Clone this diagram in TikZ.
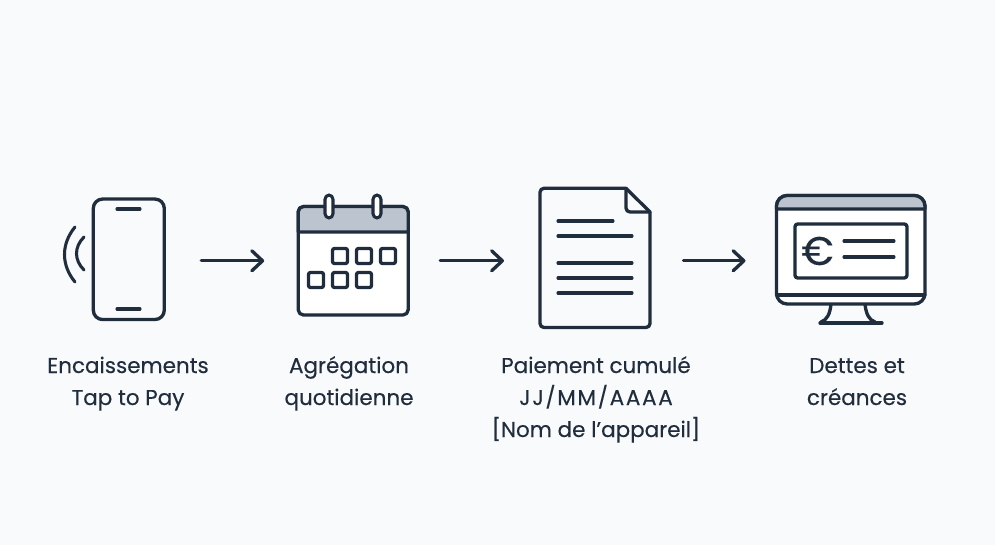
\documentclass[tikz,border=0pt]{standalone}
\usepackage{fontspec}
\setmainfont{Poppins}[FakeBold=0.3]
\usetikzlibrary{arrows.meta}
\definecolor{inkdark}{HTML}{1F2D3D}
\definecolor{paperbg}{HTML}{F9FAFC}
\definecolor{bargray}{HTML}{BCC5CF}
\def\px{0.75pt}
\tikzset{
  icon/.style={draw=inkdark, line width=2.5pt, line cap=round, line join=round},
  thinicon/.style={icon, line width=2.3pt},
  body/.style={icon, rectangle, rounded corners=7pt, inner sep=0pt, outer sep=0pt},
  slot/.style={icon, rectangle, rounded corners=1.5pt, fill=white, inner sep=0pt,
    minimum width=15*\px, minimum height=15*\px},
  flow/.style={icon, -{Straight Barb[round,length=8pt,width=15pt]}},
  caption/.style={text=inkdark, font=\fontsize{16.1pt}{24pt}\selectfont, align=center, anchor=base}
}
\begin{document}
\begin{tikzpicture}[x=0.75pt,y=-0.75pt]
  \fill[paperbg] (0,0) rectangle (995,545);
  \useasboundingbox (0,0) rectangle (995,545);

  % Phone with contactless waves
  \node[body, minimum width=71*\px, minimum height=120.5*\px] (phone) at (128.8,259.3) {};
  \draw[thinicon] (117,209) -- (140,209);
  \draw[thinicon] (117,309) -- (140,309);
  \draw[thinicon] (75,227) .. controls (61,244) and (61,265) .. (75,282);
  \draw[thinicon] (84,237) .. controls (74,247) and (74,260) .. (84,270);

  % Calendar
  \node[body, rounded corners=4pt, fill=white, minimum width=110*\px, minimum height=108.5*\px] (calendar) at (353.2,260.8) {};
  \draw[icon, fill=bargray] (298.2,232) [rounded corners=4pt] -- (298.2,206.5) -- (408.2,206.5) [sharp corners] -- (408.2,232) -- cycle;
  \foreach \x in {329,377} {
    \draw[thinicon, fill=white, rounded corners=3.2pt] (\x-4,195) rectangle (\x+4,218);
  }
  \foreach \x in {340,364,388} {
    \node[slot] (top\x) at (\x,256) {};
  }
  \foreach \x in {316,340,364} {
    \node[slot] (low\x) at (\x,280) {};
  }

  % Document with folded corner
  \node[minimum width=110*\px, minimum height=139.2*\px, inner sep=0pt, outer sep=0pt] (doc) at (595,257.9) {};
  \draw[icon, rounded corners=3pt] (626,188.3) -- (540,188.3) -- (540,327.5) -- (650,327.5) -- (650,212);
  \draw[icon] (626,188.3) -- (650,212);
  \draw[icon, rounded corners=3pt] (626,188.3) -- (626,212) -- (650,212);
  \draw[thinicon] (558,221) -- (613,221);
  \foreach \y in {236,263,278,293} {
    \draw[thinicon] (558,\y) -- (632,\y);
  }

  % Monitor
  \draw[icon] (831,304) .. controls (830,314) and (827,320) .. (821,322);
  \draw[icon] (865,304) .. controls (866,314) and (869,320) .. (875,322);
  \draw[icon] (820,323) -- (882,323);
  \node[body, rounded corners=8pt, fill=white, minimum width=148.5*\px, minimum height=108.5*\px] (screen) at (850.75,249.75) {};
  \draw[icon, fill=bargray] (776.5,209) [rounded corners=8pt] -- (776.5,195.5) -- (925,195.5) [sharp corners] -- (925,209) -- cycle;
  \draw[icon] (776.5,295) -- (925,295);
  \node[icon, rectangle, rounded corners=2pt, inner sep=0pt, minimum width=112*\px, minimum height=54*\px] (cheque) at (851,251) {};
  \node[text=inkdark, font=\fontsize{30pt}{30pt}\selectfont, inner sep=0pt] (euro) at (817.5,251) {€};
  \draw[thinicon] (844,241) -- (894,241);
  \draw[thinicon] (844,257) -- (894,257);

  % Arrows between the icons
  \draw[flow, shorten <=37*\px, shorten >=34*\px] (phone.east |- calendar.west) -- (calendar.west);
  \draw[flow, shorten <=32*\px, shorten >=36*\px] (calendar.east) -- (doc.west |- calendar.east);
  \draw[flow, shorten <=33.5*\px, shorten >=31*\px] (doc.east |- calendar.east) -- (screen.west |- calendar.east);

  % Captions
  \node[caption] (cap1) at (128,405) {Encaissements\\Tap to Pay};
  \node[caption] (cap2) at (349,405) {Agrégation\\quotidienne};
  \node[caption] (cap3) at (596,437) {Paiement cumulé\\{\addfontfeatures{LetterSpace=8}JJ/MM/AAAA}\\{[}Nom de l’appareil{]}};
  \node[caption] (cap4) at (857,405) {Dettes et\\créances};
\end{tikzpicture}
\end{document}
